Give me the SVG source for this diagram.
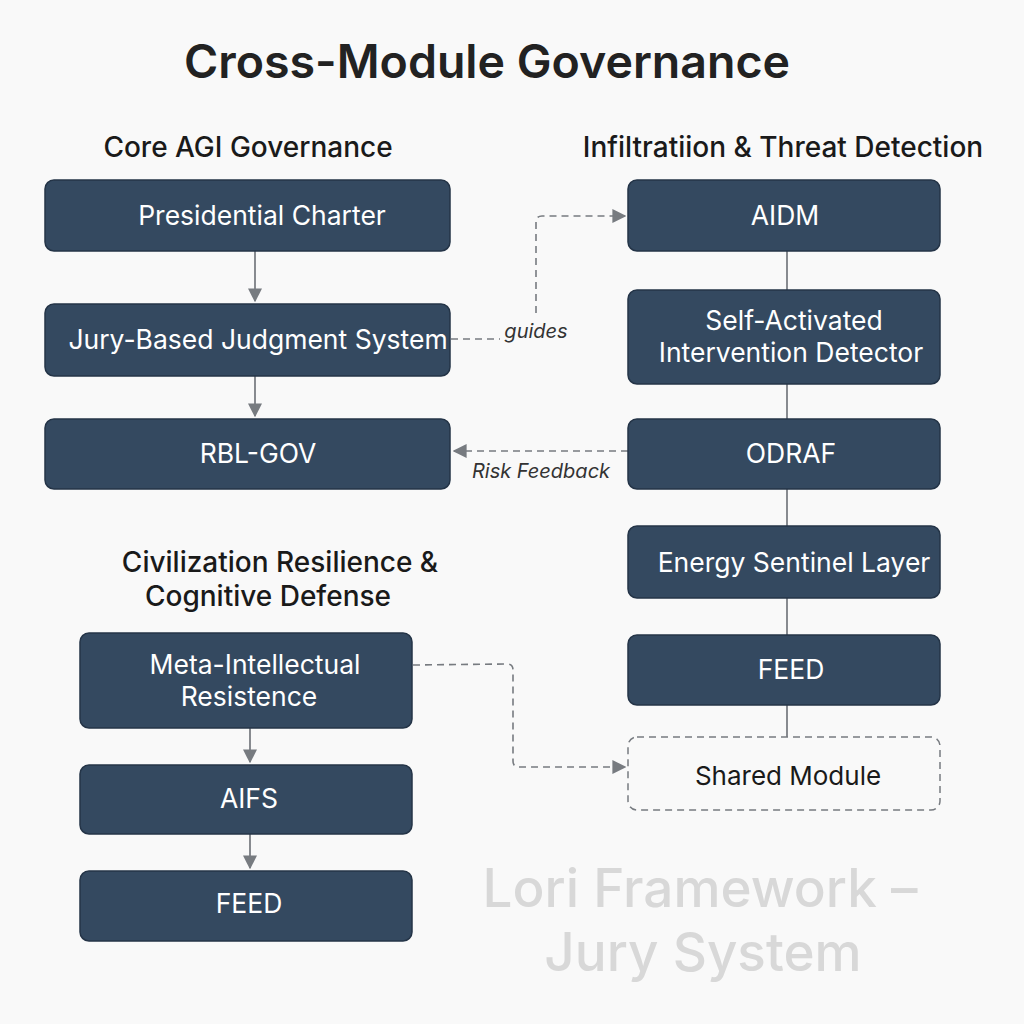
<svg xmlns="http://www.w3.org/2000/svg" width="1024" height="1024" viewBox="0 0 1024 1024">
<defs>
<style>
.bg{fill:#f9f9f9}
.box{fill:#344960;stroke:#243447;stroke-width:1.5}
.bt{font-family:Inter,"Liberation Sans",sans-serif;font-size:26.5px;fill:#ffffff;text-anchor:middle}
.hd{font-family:Inter,"Liberation Sans",sans-serif;font-size:28px;font-weight:500;fill:#1a1a1a;text-anchor:middle}
.title{font-family:Inter,"Liberation Sans",sans-serif;font-size:46.5px;font-weight:600;fill:#222222;text-anchor:middle}
.lbl{font-family:Inter,"Liberation Sans",sans-serif;font-size:20px;font-style:italic;fill:#333333;text-anchor:middle}
.wm{font-family:Inter,"Liberation Sans",sans-serif;font-size:53px;font-weight:500;fill:#d8d8d8;text-anchor:middle}
.solid{stroke:#6b6f75;stroke-width:1.6;fill:none}
.dash{stroke:#777b80;stroke-width:1.6;fill:none;stroke-dasharray:7 5}
.shared{fill:#f9f9f9;stroke:#777b80;stroke-width:1.5;stroke-dasharray:7 5}
.st{font-family:Inter,"Liberation Sans",sans-serif;font-size:26px;fill:#1a1a1a;text-anchor:middle}
</style>
<marker id="ah" viewBox="0 0 10 10" refX="9" refY="5" markerWidth="14" markerHeight="14" markerUnits="userSpaceOnUse" orient="auto">
<path d="M0,0 L10,5 L0,10 z" fill="#777b80"/>
</marker>
</defs>
<rect class="bg" x="0" y="0" width="1024" height="1024"/>

<text class="title" x="487" y="78">Cross-Module Governance</text>
<text class="hd" x="248" y="157">Core AGI Governance</text>
<text class="hd" x="783" y="157">Infiltratiion &amp; Threat Detection</text>
<text class="hd" x="280" y="572">Civilization Resilience &amp;</text>
<text class="hd" x="268" y="606">Cognitive Defense</text>

<g id="connectors">
<line class="solid" x1="255" y1="251" x2="255" y2="301" marker-end="url(#ah)"/>
<line class="solid" x1="255" y1="376" x2="255" y2="416" marker-end="url(#ah)"/>
<line class="solid" x1="250" y1="728" x2="250" y2="762" marker-end="url(#ah)"/>
<line class="solid" x1="250" y1="834" x2="250" y2="868" marker-end="url(#ah)"/>
<line class="solid" x1="787" y1="251" x2="787" y2="290"/>
<line class="solid" x1="787" y1="384" x2="787" y2="419"/>
<line class="solid" x1="787" y1="489" x2="787" y2="526"/>
<line class="solid" x1="787" y1="598" x2="787" y2="635"/>
<line class="solid" x1="787" y1="705" x2="787" y2="737"/>
<path class="dash" d="M451,339 L500,339"/>
<path class="dash" d="M536,313 L536,222 Q536,216 542,216 L625,216" marker-end="url(#ah)"/>
<path class="dash" d="M628,451 L454,451" marker-end="url(#ah)"/>
<path class="dash" d="M413,665 L507,664 Q513,664 513,670 L513,761 Q513,767 519,767 L625,767" marker-end="url(#ah)"/>
<text class="lbl" x="536" y="338">guides</text>
<text class="lbl" x="541" y="478">Risk Feedback</text>
</g>

<g id="n-presidential"><rect class="box" x="45" y="180" width="405" height="71" rx="9"/><text class="bt" x="262" y="225">Presidential Charter</text></g>
<g id="n-jury"><rect class="box" x="45" y="304" width="405" height="72" rx="9"/><text class="bt" x="258" y="349">Jury-Based Judgment System</text></g>
<g id="n-rblgov"><rect class="box" x="45" y="419" width="405" height="70" rx="9"/><text class="bt" x="258" y="463">RBL-GOV</text></g>

<g id="n-aidm"><rect class="box" x="628" y="180" width="312" height="71" rx="9"/><text class="bt" x="785" y="225">AIDM</text></g>
<g id="n-self"><rect class="box" x="628" y="290" width="312" height="94" rx="9"/><text class="bt" x="794" y="330">Self-Activated</text><text class="bt" x="791" y="362">Intervention Detector</text></g>
<g id="n-odraf"><rect class="box" x="628" y="419" width="312" height="70" rx="9"/><text class="bt" x="791" y="463">ODRAF</text></g>
<g id="n-energy"><rect class="box" x="628" y="526" width="312" height="72" rx="9"/><text class="bt" x="794" y="572">Energy Sentinel Layer</text></g>
<g id="n-feed1"><rect class="box" x="628" y="635" width="312" height="70" rx="9"/><text class="bt" x="791" y="679">FEED</text></g>
<g id="n-shared"><rect class="shared" x="628" y="737" width="312" height="73" rx="9"/><text class="st" x="788" y="785">Shared Module</text></g>

<g id="n-meta"><rect class="box" x="80" y="633" width="332" height="95" rx="9"/><text class="bt" x="255" y="674">Meta-Intellectual</text><text class="bt" x="249" y="706">Resistence</text></g>
<g id="n-aifs"><rect class="box" x="80" y="765" width="332" height="69" rx="9"/><text class="bt" x="249" y="808">AIFS</text></g>
<g id="n-feed2"><rect class="box" x="80" y="871" width="332" height="70" rx="9"/><text class="bt" x="249" y="913">FEED</text></g>

<text class="wm" x="700" y="907">Lori Framework –</text>
<text class="wm" x="703" y="971">Jury System</text>
</svg>
